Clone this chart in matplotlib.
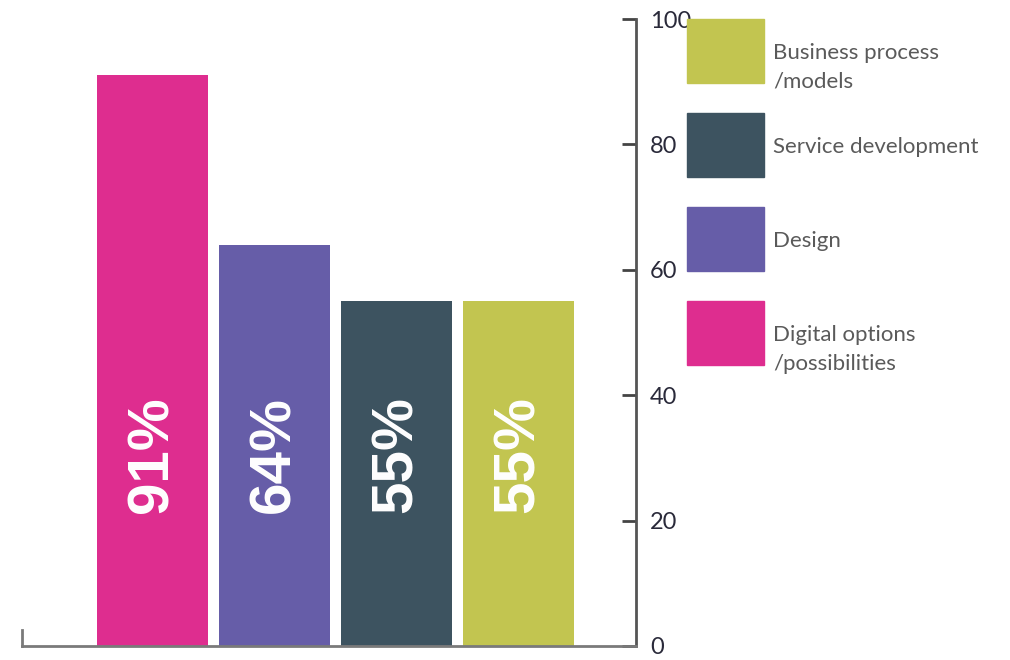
import matplotlib.pyplot as plt
from matplotlib.patches import Rectangle

# survey shares, in drawing order (left to right)
categories = ['Digital options\n/possibilities', 'Design',
              'Service development', 'Business process\n/models']
values = [91, 64, 55, 55]
colors = ['#DE2D8F', '#665DA8', '#3D5360', '#C2C550']
y_ticks = [0, 20, 40, 60, 80, 100]

W, H = 1010, 660
fig = plt.figure(figsize=(W / 100, H / 100), dpi=100)
ax = fig.add_axes([22 / W, (H - 646) / H, (636 - 22) / W, (646 - 19) / H])

x = list(range(len(values)))
ax.bar(x, values, width=0.91, color=colors, zorder=2)
ax.set_xlim(-1.07, 3.96)
ax.set_ylim(0, 100)

# value labels, rotated inside each bar
for xi, v in zip(x, values):
    ax.text(xi, 30.5, f'{v}%', rotation=90, ha='center', va='center',
            color='white', fontsize=42, fontweight='bold',
            family='Liberation Sans', zorder=3)

# axis styling: only bottom line and right value axis
for side in ['top', 'left']:
    ax.spines[side].set_visible(False)
ax.spines['bottom'].set_color('#7a7a7a')
ax.spines['bottom'].set_linewidth(2)
ax.spines['right'].set_color('#555555')
ax.spines['right'].set_linewidth(2)
ax.yaxis.tick_right()
ax.set_yticks(y_ticks)
ax.tick_params(axis='y', direction='in', length=10, width=2, color='#444444',
               labelsize=17, labelcolor='#2a2a3a', pad=10)
for lbl in ax.get_yticklabels():
    lbl.set_family('Lato')
ax.set_xticks([])
# short upright tick at the left end of the baseline
ax.plot([-1.07, -1.07], [0, 2.6], color='#7a7a7a', lw=2, clip_on=False)

# legend: swatches stacked top to bottom in reverse drawing order
box_w, box_h, step = 77, 64, 94
for i, (lab, col) in enumerate(zip(categories[::-1], colors[::-1])):
    top = 19 + i * step
    fig.add_artist(Rectangle((687 / W, (H - top - box_h) / H), box_w / W, box_h / H,
                             transform=fig.transFigure, color=col))
    cy = top + box_h / 2
    fig.text(773 / W, (H - cy + 8) / H, lab, ha='left', va='top',
             fontsize=16, color='#5a5a5a', family='Lato', linespacing=1.55)

fig.savefig('out.png', dpi=100)
